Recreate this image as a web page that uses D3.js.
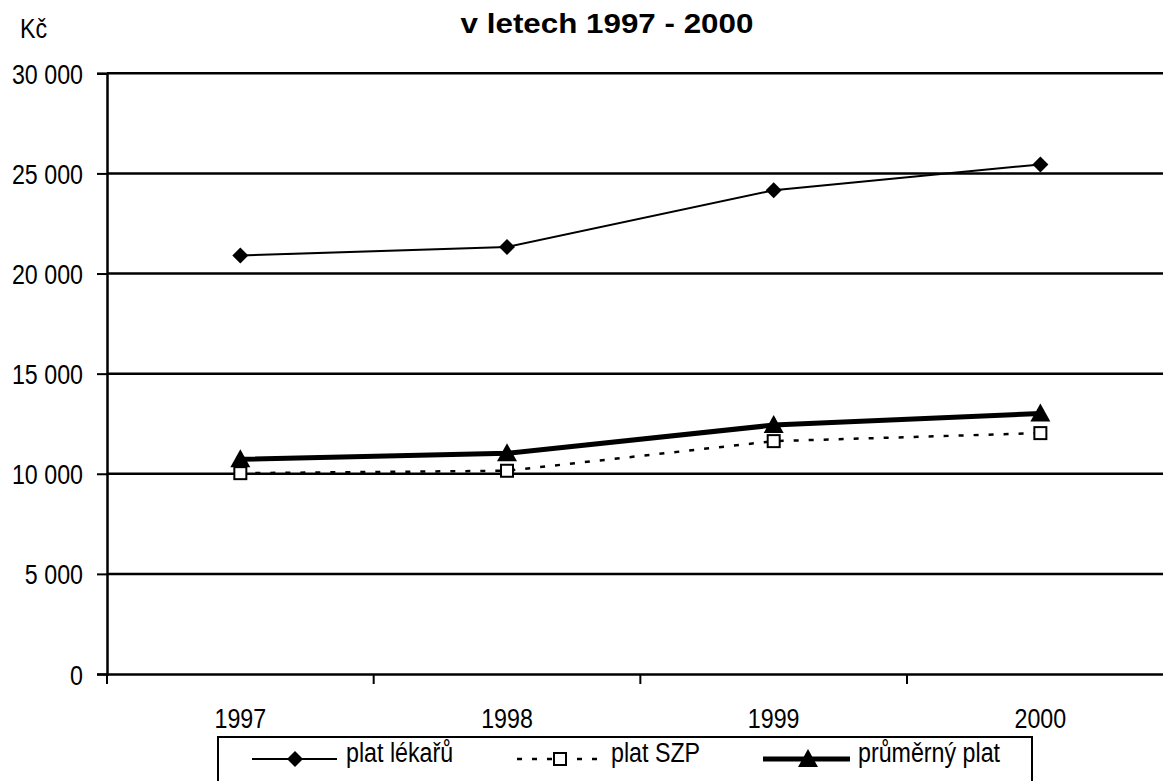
<!DOCTYPE html>
<html><head><meta charset="utf-8">
<script src="https://cdn.jsdelivr.net/npm/d3@7/dist/d3.min.js"></script>
<style>
body{margin:0;background:#fff;}
svg{display:block;}
text{font-family:"Liberation Sans",Arial,sans-serif;fill:#000;}
</style></head>
<body>
<svg id="c" width="1163" height="781"></svg>
<script>
const years = ["1997","1998","1999","2000"];
const platLekaru = [20900, 21330, 24160, 25450];
const platSZP = [10030, 10150, 11630, 12030];
const prumernyPlat = [10720, 11020, 12430, 13010];
const yTicks = [0, 5000, 10000, 15000, 20000, 25000, 30000];
const seriesNames = ["plat lékařů", "plat SZP", "průměrný plat"];

const svg = d3.select("#c");
const x = d3.scaleBand().domain(years).range([107, 1173.7]);
const y = d3.scaleLinear().domain([0, 30000]).range([674, 73.3]);
const fmt = v => d3.format(",")(v).replace(/,/g, " ");
const NARROW = 0.83;

function squeeze(sel, sx) {
  sel.each(function () {
    const tx = +this.getAttribute("x") || 0;
    const ty = +this.getAttribute("y") || 0;
    this.setAttribute("x", 0);
    this.setAttribute("y", 0);
    this.setAttribute("transform", `translate(${tx},${ty}) scale(${sx},1)`);
  });
}

// gridlines
svg.append("g").selectAll("line").data(yTicks.filter(t => t > 0)).join("line")
  .attr("x1", 107).attr("x2", 1163).attr("y1", d => y(d)).attr("y2", d => y(d))
  .attr("stroke", "#000").attr("stroke-width", 2.5);

// y axis
const ya = svg.append("g").attr("transform", "translate(107,0)")
  .call(d3.axisLeft(y).tickValues(yTicks).tickFormat(fmt).tickSize(10).tickPadding(14));
ya.select(".domain").attr("stroke-width", 2.5);
ya.selectAll(".tick line").attr("stroke-width", 2);
ya.selectAll("text").style("font-size", "28px").attr("dy", "0.36em");
squeeze(ya.selectAll("text"), NARROW);

// x axis
const xa = svg.append("g").attr("transform", "translate(0,674)")
  .call(d3.axisBottom(x).tickSize(0).tickPadding(34));
xa.select(".domain").attr("stroke-width", 2.5);
xa.selectAll("text").style("font-size", "28px");
squeeze(xa.selectAll("text"), NARROW);
svg.append("g").selectAll("line").data(years).join("line")
  .attr("x1", d => x(d)).attr("x2", d => x(d)).attr("y1", 674).attr("y2", 684)
  .attr("stroke", "#000").attr("stroke-width", 2);

const cx = d => x(d) + x.bandwidth() / 2;
const line = vals => d3.line().x((d, i) => cx(years[i])).y(d => y(d))(vals);

// lines
svg.append("path").attr("d", line(platLekaru)).attr("fill", "none").attr("stroke", "#000").attr("stroke-width", 2);
svg.append("path").attr("d", line(platSZP)).attr("fill", "none").attr("stroke", "#000").attr("stroke-width", 2.5).attr("stroke-dasharray", "5,10");
svg.append("path").attr("d", line(prumernyPlat)).attr("fill", "none").attr("stroke", "#000").attr("stroke-width", 5);

const diamond = d3.symbol().type(d3.symbolSquare).size(128);
function drawDiamond(g, px, py) {
  g.append("path").attr("d", diamond()).attr("transform", `translate(${px},${py}) rotate(45)`).attr("fill", "#000");
}
function drawSquare(g, px, py) {
  g.append("rect").attr("x", px - 6).attr("y", py - 6).attr("width", 12).attr("height", 12)
    .attr("fill", "#fff").attr("stroke", "#000").attr("stroke-width", 2);
}
function drawTri(g, px, py) {
  g.append("path").attr("d", `M${px},${py - 10}L${px + 10},${py + 8}L${px - 10},${py + 8}Z`).attr("fill", "#000");
}
const mk = svg.append("g");
platLekaru.forEach((v, i) => drawDiamond(mk, cx(years[i]), y(v)));
platSZP.forEach((v, i) => drawSquare(mk, cx(years[i]), y(v)));
prumernyPlat.forEach((v, i) => drawTri(mk, cx(years[i]), y(v)));

// title and unit
const title = svg.append("text").attr("x", 607).attr("y", 33).attr("text-anchor", "middle")
  .style("font-weight", "bold").style("font-size", "28px")
  .text("v letech 1997 - 2000");
squeeze(title, 1.12);
const unit = svg.append("text").attr("x", 20).attr("y", 38).style("font-size", "28px").text("Kč");
squeeze(unit, NARROW);

// legend
const lg = svg.append("g");
lg.append("rect").attr("x", 218).attr("y", 737).attr("width", 814).attr("height", 60)
  .attr("fill", "#fff").attr("stroke", "#000").attr("stroke-width", 2);
const ly = 759, ty = 762;
lg.append("line").attr("x1", 252).attr("x2", 337).attr("y1", ly).attr("y2", ly).attr("stroke", "#000").attr("stroke-width", 2);
drawDiamond(lg, 295, ly);
lg.append("line").attr("x1", 517).attr("x2", 600).attr("y1", ly).attr("y2", ly).attr("stroke", "#000").attr("stroke-width", 2.5).attr("stroke-dasharray", "5,10");
drawSquare(lg, 560, ly);
lg.append("line").attr("x1", 763).attr("x2", 850).attr("y1", ly).attr("y2", ly).attr("stroke", "#000").attr("stroke-width", 5);
drawTri(lg, 808, ly);
const lt = lg.selectAll("text.lt").data(seriesNames).join("text").attr("class", "lt")
  .attr("x", (d, i) => [346, 611, 858][i]).attr("y", ty).style("font-size", "28px").text(d => d);
squeeze(lt, NARROW);
</script>
</body></html>
